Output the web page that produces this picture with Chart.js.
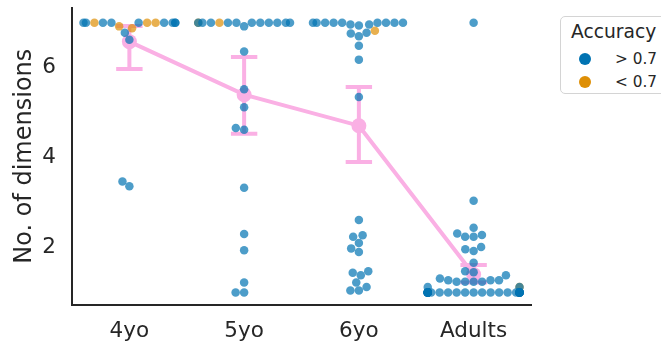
<!DOCTYPE html>
<html>
<head>
<meta charset="utf-8">
<script src="https://cdn.jsdelivr.net/npm/chart.js@4.4.0/dist/chart.umd.min.js"></script>
<style>
  html, body { margin: 0; padding: 0; background: #fff; overflow: hidden; }
  #wrap { position: relative; width: 661px; height: 347px; }
  #chart { width: 661px; height: 347px; }
  #legend {
    position: absolute; left: 560px; top: 16px; width: 120px; height: 76px;
    border: 1px solid #d4d4d4; border-radius: 5px; background: #fff;
    font-family: 'DejaVu Sans', sans-serif; color: #262626;
  }
  #legend .title { position: absolute; left: 10px; top: 6px; font-size: 18.7px; line-height: 1; }
  #legend .dot { position: absolute; left: 18px; width: 12px; height: 12px; border-radius: 50%; }
  #legend .lbl { position: absolute; left: 54px; font-size: 15.3px; line-height: 1; }
</style>
</head>
<body>
<div id="wrap">
  <canvas id="chart" width="661" height="347"></canvas>
  <div id="legend">
    <div class="title">Accuracy</div>
    <div class="dot" style="top:36px;background:#0173b2"></div>
    <div class="lbl" style="top:35px">&gt; 0.7</div>
    <div class="dot" style="top:59px;background:#de8f05"></div>
    <div class="lbl" style="top:58px">&lt; 0.7</div>
  </div>
</div>
<script>
Chart.defaults.font.family = "'DejaVu Sans', sans-serif";
Chart.defaults.color = '#262626';

// Categories and values
const groups = ['4yo', '5yo', '6yo', 'Adults'];
const yTicks = [2, 4, 6];

// number of dimensions per participant; acc: 1 = accuracy > 0.7, 0 = < 0.7
const dims4yo = [7, 7, 7, 7, 7, 7, 7, 7, 7, 7, 7, 7, 6.92, 6.88, 6.78, 6.62, 3.47, 3.36];
const acc4yo  = [1, 0, 1, 0, 1, 1, 0, 1, 1, 1, 1, 1, 0, 0, 1, 1, 1, 1];

const dims5yo = [7, 7, 7, 7, 7, 7, 7, 7, 7, 7, 7, 7, 7, 6.92, 6.36, 5.52, 5.12, 4.66, 4.62, 3.33, 2.30, 1.94, 1.22, 1, 1];
const acc5yo  = [1, 1, 1, 1, 0, 1, 1, 1, 1, 1, 0, 1, 1, 1, 1, 1, 1, 1, 1, 1, 1, 1, 1, 1, 1];

const dims6yo = [7, 7, 7, 7, 7, 7, 7, 7, 7, 6.96, 6.94, 6.96, 6.82, 6.78, 6.76, 6.70, 6.49, 6.18, 5.35,
                 2.61, 2.27, 2.24, 2.10, 1.98, 1.90, 1.47, 1.44, 1.38, 1.22, 1.12, 1.04, 1.04];
const acc6yo  = [1, 1, 1, 1, 1, 1, 1, 1, 1, 1, 1, 1, 0, 1, 1, 1, 1, 1, 1,
                 1, 1, 1, 1, 1, 1, 1, 1, 1, 1, 1, 1, 1];

const dimsAdults = [7, 3.04, 2.44, 2.31, 2.28, 2.24, 2.24, 2.01, 1.96, 1.92, 1.66, 1.47, 1.45, 1.38,
                    1.31, 1.27, 1.27, 1.27, 1.24, 1.24, 1.24, 1.24, 1.12, 1.12, 1.12,
                    1, 1, 1, 1, 1, 1, 1, 1, 1, 1, 1, 1, 1, 1, 1, 1, 1, 1, 1, 1, 1, 1, 1, 1, 1, 1, 1, 1, 1, 1];
const accAdults  = [1, 1, 1, 1, 1, 1, 1, 1, 1, 1, 1, 1, 1, 1,
                    1, 1, 1, 1, 1, 1, 1, 1, 1, 0, 1,
                    1, 1, 1, 1, 1, 1, 1, 1, 1, 1, 1, 1, 1, 1, 1, 1, 1, 1, 1, 1, 1, 1, 1, 1, 1, 1, 1, 1, 1, 1];

// pointplot: mean and 95% CI
const meanDims = [6.58, 5.40, 4.71, 1.40];
const ciLow    = [5.97, 4.53, 3.90, 1.22];
const ciHigh   = [6.93, 6.24, 5.57, 1.61];

const groupDims = [dims4yo, dims5yo, dims6yo, dimsAdults];
const groupAcc = [acc4yo, acc5yo, acc6yo, accAdults];

const colors = {
  high: 'rgba(1, 115, 178, 0.7)',
  low: 'rgba(222, 143, 5, 0.7)',
  pink: '#fab0e4',
  axis: '#262626'
};

const DOT_R = 4.25;
const DOT = DOT_R * 2;

// error bars drawn under the datasets
const errorBars = {
  id: 'errorBars',
  beforeDatasetsDraw(chart) {
    const {ctx, scales: {x, y}} = chart;
    const cap = (x.getPixelForValue(1) - x.getPixelForValue(0)) * 0.115;
    ctx.save();
    ctx.strokeStyle = colors.pink;
    ctx.lineWidth = 4;
    groups.forEach((g, i) => {
      const px = x.getPixelForValue(i);
      const lo = y.getPixelForValue(ciLow[i]);
      const hi = y.getPixelForValue(ciHigh[i]);
      ctx.beginPath();
      ctx.moveTo(px, lo); ctx.lineTo(px, hi);
      ctx.moveTo(px - cap, lo); ctx.lineTo(px + cap, lo);
      ctx.moveTo(px - cap, hi); ctx.lineTo(px + cap, hi);
      ctx.stroke();
    });
    ctx.restore();
  }
};

const chart = new Chart(document.getElementById('chart'), {
  type: 'scatter',
  data: {
    datasets: [
      { label: '> 0.7', data: [], backgroundColor: colors.high, pointRadius: DOT_R, pointHoverRadius: DOT_R, pointBorderWidth: 0, order: 1 },
      { label: '< 0.7', data: [], backgroundColor: colors.low, pointRadius: DOT_R, pointHoverRadius: DOT_R, pointBorderWidth: 0, order: 2 },
      {
        type: 'line', label: 'mean',
        data: meanDims.map((m, i) => ({x: i, y: m})),
        borderColor: colors.pink, backgroundColor: colors.pink, borderWidth: 4,
        pointRadius: 7.5, pointHoverRadius: 7.5, pointBorderWidth: 0, showLine: true, order: 3
      }
    ]
  },
  options: {
    responsive: false,
    animation: false,
    layout: { padding: { left: 0, right: 130, top: 7, bottom: 0 } },
    plugins: { legend: { display: false }, tooltip: { enabled: false } },
    scales: {
      x: {
        type: 'linear', min: -0.5, max: 3.5,
        grid: { display: false, drawTicks: false },
        border: { display: true, color: colors.axis, width: 2 },
        afterBuildTicks: (s) => { s.ticks = groups.map((g, i) => ({value: i})); },
        afterFit: (s) => { s.height = 42; s.paddingLeft = 0; s.paddingRight = 0; },
        ticks: { padding: 14, font: { size: 21.5 }, color: colors.axis, callback: (v) => groups[v] }
      },
      y: {
        min: 0.72, max: 7.34,
        grid: { display: false, drawTicks: false },
        border: { display: true, color: colors.axis, width: 2 },
        afterBuildTicks: (s) => { s.ticks = yTicks.map(v => ({value: v})); },
        afterFit: (s) => { s.width = 72; s.paddingTop = 0; s.paddingBottom = 0; },
        ticks: { padding: 16, font: { size: 21.5 }, color: colors.axis },
        title: { display: true, text: 'No. of dimensions', font: { size: 24 }, color: colors.axis, padding: { top: 10, bottom: 0 } }
      }
    }
  },
  plugins: [errorBars]
});

// seaborn-like beeswarm: place each point (sorted by value) as close to the centre as possible
function placeSwarm() {
  const xs = chart.scales.x, ys = chart.scales.y;
  const unit = xs.getPixelForValue(1) - xs.getPixelForValue(0);
  const half = 0.4 * unit;
  const hi = [], lo = [];
  groupDims.forEach((vals, g) => {
    const order = vals.map((v, i) => i).sort((a, b) => vals[a] - vals[b] || a - b);
    const placed = [];
    const off = [];
    order.forEach(i => {
      const py = ys.getPixelForValue(vals[i]);
      const near = placed.filter(p => Math.abs(p.y - py) < DOT);
      const cands = [0];
      near.forEach(p => {
        const dx = Math.sqrt(DOT * DOT - (p.y - py) ** 2);
        cands.push(p.x - dx, p.x + dx);
      });
      cands.sort((a, b) => Math.abs(a) - Math.abs(b));
      let x = cands.find(c => near.every(p => Math.hypot(p.x - c, p.y - py) > DOT - 0.01));
      if (x === undefined) x = cands[cands.length - 1];
      placed.push({x, y: py});
      off[i] = x;
    });
    vals.forEach((v, i) => {
      const o = Math.max(-half, Math.min(half, off[i]));
      (groupAcc[g][i] ? hi : lo).push({x: g + o / unit, y: v});
    });
  });
  chart.data.datasets[0].data = hi;
  chart.data.datasets[1].data = lo;
  chart.update('none');
}
placeSwarm();
</script>
</body>
</html>
